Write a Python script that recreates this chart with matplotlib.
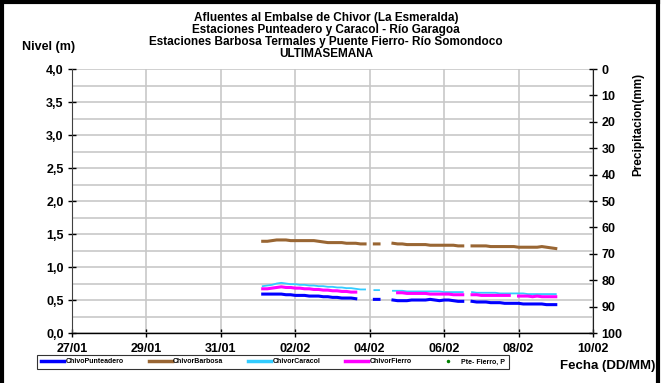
import datetime

import matplotlib
matplotlib.use("Agg")
import matplotlib.dates as mdates
import numpy as np
from matplotlib import pyplot as plt
from matplotlib.lines import Line2D

nan = np.nan

# muestras cada 3 horas desde 01/02 03:00 hasta 09/02 00:00
t0 = datetime.datetime(2014, 2, 1, 3, 0)
fechas = [t0 + datetime.timedelta(hours=3 * i) for i in range(64)]

barbosa = [1.39, 1.39, 1.40, 1.41, 1.41, 1.41, 1.40, 1.40, 1.40, 1.40,
           1.40, 1.40, 1.39, 1.38, 1.37, 1.37, 1.37, 1.37, 1.36, 1.36,
           1.36, 1.35, 1.35, nan, 1.35, 1.35, nan, nan, 1.36, 1.35,
           1.35, 1.34, 1.34, 1.34, 1.34, 1.34, 1.33, 1.33, 1.33, 1.33,
           1.33, 1.33, 1.32, 1.32, nan, 1.32, 1.32, 1.32, 1.32, 1.31,
           1.31, 1.31, 1.31, 1.31, 1.31, 1.30, 1.30, 1.30, 1.30, 1.30,
           1.31, 1.30, 1.29, 1.28]

caracol = [0.71, 0.72, 0.73, 0.75, 0.76, 0.75, 0.74, 0.74, 0.73, 0.73,
           0.72, 0.72, 0.71, 0.71, 0.70, 0.70, 0.69, 0.69, 0.68, 0.68,
           0.67, 0.66, 0.66, nan, 0.65, 0.65, nan, nan, 0.64, 0.64,
           0.64, 0.63, 0.63, 0.63, 0.63, 0.63, 0.63, 0.63, 0.63, 0.62,
           0.62, 0.62, 0.62, 0.62, nan, 0.62, 0.61, 0.61, 0.61, 0.61,
           0.61, 0.60, 0.60, 0.60, 0.60, 0.60, 0.60, 0.59, 0.59, 0.59,
           0.59, 0.59, 0.59, 0.59]

fierro = [0.67, 0.67, 0.68, 0.69, 0.70, 0.69, 0.69, 0.68, 0.68, 0.67,
          0.67, 0.66, 0.66, 0.65, 0.65, 0.64, 0.64, 0.63, 0.63, 0.62,
          0.62, nan, nan, nan, nan, nan, nan, nan, nan, 0.61,
          0.61, 0.60, 0.60, 0.60, 0.60, 0.60, 0.59, 0.59, 0.59, 0.59,
          0.59, 0.58, 0.58, 0.58, nan, 0.58, 0.58, 0.57, 0.57, 0.57,
          0.57, 0.57, 0.57, 0.57, nan, 0.56, 0.56, 0.56, 0.55, 0.56,
          0.55, 0.55, 0.55, 0.55]

punteadero = [0.59, 0.59, 0.59, 0.59, 0.59, 0.58, 0.58, 0.57, 0.57, 0.57,
              0.56, 0.56, 0.56, 0.55, 0.55, 0.54, 0.54, 0.53, 0.53, 0.53,
              0.52, nan, nan, nan, 0.51, 0.51, nan, nan, 0.50, 0.49,
              0.49, 0.49, 0.50, 0.50, 0.50, 0.50, 0.51, 0.50, 0.49, 0.50,
              0.50, 0.49, 0.48, 0.48, nan, 0.48, 0.47, 0.47, 0.47, 0.46,
              0.46, 0.46, 0.45, 0.45, 0.45, 0.45, 0.44, 0.44, 0.44, 0.44,
              0.44, 0.43, 0.43, 0.43]

# precipitacion Pte. Fierro: sin registros en la semana
precip_fechas = []
precip = []

titulo = ("Afluentes al Embalse de Chivor (La Esmeralda)\n"
          "Estaciones Punteadero y Caracol - Río Garagoa\n"
          "Estaciones Barbosa Termales y Puente Fierro- Río Somondoco\n"
          "ULTIMASEMANA")

plt.rcParams["font.family"] = ["Liberation Sans", "DejaVu Sans"]
plt.rcParams["font.weight"] = "bold"

fig = plt.figure(figsize=(6.63, 3.83), dpi=100)
ax = fig.add_axes([0.1086, 0.1305, 0.7858, 0.6893])
ax2 = ax.twinx()

ax.plot(fechas, punteadero, color="#0000ff", lw=2.2, label="ChivoPunteadero")
ax.plot(fechas, barbosa, color="#996633", lw=2.2, label="ChivorBarbosa")
ax.plot(fechas, caracol, color="#33ccff", lw=1.3, label="ChivorCaracol")
ax.plot(fechas, fierro, color="#ff00ff", lw=2.2, label="ChivorFierro")
ax2.plot(precip_fechas, precip, ".", color="#008000", ms=3, label="Pte- Fierro, P")

ax.set_xlim(datetime.datetime(2014, 1, 27), datetime.datetime(2014, 2, 10))
ax.set_ylim(0, 4)
ax.set_yticks(np.arange(0, 4.01, 0.5))
ax.set_yticks(np.arange(0, 4.01, 0.25), minor=True)
ax.yaxis.set_major_formatter(matplotlib.ticker.FuncFormatter(lambda v, p: f"{v:.1f}".replace(".", ",")))
ax.xaxis.set_major_locator(mdates.DayLocator(bymonthday=[27, 29, 31, 2, 4, 6, 8, 10]))
ax.xaxis.set_major_formatter(mdates.DateFormatter("%d/%m"))
ax.grid(True, which="both", axis="y", color="#c8c8c8", lw=1.2)
ax.grid(True, which="major", axis="x", color="#c8c8c8", lw=1.2)
ax.set_axisbelow(True)

ax2.set_ylim(100, 0)
ax2.set_yticks(np.arange(0, 101, 10))

for a in (ax, ax2):
    a.spines["top"].set_visible(False)
    a.tick_params(which="major", direction="inout", length=6, width=1, labelsize=9, pad=3)
    a.tick_params(which="minor", length=0)
ax.tick_params(axis="x", pad=4.5)
ax.spines["left"].set_color("#404040")
ax.spines["right"].set_visible(False)
ax.spines["bottom"].set_lw(1)
ax2.spines["right"].set_color("#202020")
ax2.spines["left"].set_visible(False)
ax2.spines["bottom"].set_visible(False)

fig.text(0.492, 0.968, titulo, ha="center", va="top", fontsize=8.5, fontweight="bold", linespacing=1.0)
fig.text(0.033, 0.877, "Nivel (m)", ha="left", va="center", fontsize=9, fontweight="bold")
fig.text(0.963, 0.676, "Precipitacion(mm)", ha="center", va="center", rotation=90, fontsize=8.5, fontweight="bold")
fig.text(0.988, 0.044, "Fecha (DD/MM)", ha="right", va="center", fontsize=9.5, fontweight="bold")

handles = ax.get_lines() + ax2.get_lines()
leg = fig.legend(handles=[Line2D([], [], color=h.get_color(), lw=2.5 if h.get_linestyle() != "None" else 0,
                                 marker=h.get_marker(), ms=3) for h in handles],
                 labels=[h.get_label() for h in handles],
                 loc="center", bbox_to_anchor=(0.412, 0.055), ncol=5, fontsize=5,
                 frameon=True, fancybox=False, edgecolor="black", handlelength=3.3,
                 handletextpad=0.2, columnspacing=3.6, borderpad=0.55)
leg.get_frame().set_linewidth(0.8)

# marco negro de la figura
for xs, ys in [([0.003, 0.003], [0, 1]), ([0, 0.993], [0.996, 0.996]), ([0.993, 0.993], [0, 1])]:
    fig.add_artist(Line2D(xs, ys, color="black", lw=3, transform=fig.transFigure))

fig.canvas.draw()
for a in (ax, ax2):
    plt.setp(a.get_xticklabels() + a.get_yticklabels(), fontweight="bold")
for txt in leg.get_texts():
    txt.set_fontweight("bold")

fig.savefig("out.png", dpi=100)
